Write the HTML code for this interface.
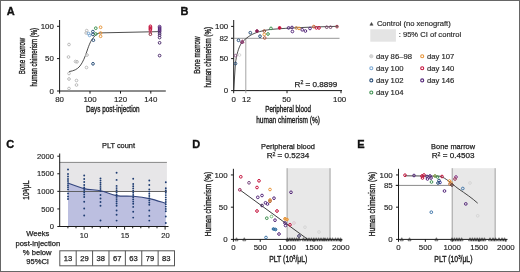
<!DOCTYPE html>
<html><head><meta charset="utf-8"><style>
html,body{margin:0;padding:0;background:#fff;}
#wrap{position:relative;width:520px;height:272px;overflow:hidden;background:#fff;}
svg{display:block;will-change:transform;filter:blur(0.3px);}
#bd{position:absolute;left:0;top:0;width:518px;height:270px;border:1px solid #666;}
text{font-family:"Liberation Sans",sans-serif;}
</style></head><body>
<div id="wrap">
<svg width="520" height="272" viewBox="0 0 520 272">
<text x="6.7" y="14.6" font-size="11" text-anchor="start" fill="#111" stroke="#111" stroke-width="0.35" font-weight="bold" >A</text>
<line x1="59.6" y1="20" x2="59.6" y2="91.5" stroke="#1a1a1a" stroke-width="1"/>
<line x1="59.1" y1="91" x2="165.8" y2="91" stroke="#1a1a1a" stroke-width="1"/>
<line x1="57" y1="26.3" x2="59.6" y2="26.3" stroke="#1a1a1a" stroke-width="1"/>
<text x="53.8" y="28.900000000000002" font-size="7.9" text-anchor="end" fill="#1e1e1e" stroke="#1e1e1e" stroke-width="0.15" >100</text>
<line x1="57" y1="58.6" x2="59.6" y2="58.6" stroke="#1a1a1a" stroke-width="1"/>
<text x="53.8" y="61.2" font-size="7.9" text-anchor="end" fill="#1e1e1e" stroke="#1e1e1e" stroke-width="0.15" >50</text>
<line x1="57" y1="91" x2="59.6" y2="91" stroke="#1a1a1a" stroke-width="1"/>
<text x="53.8" y="93.6" font-size="7.9" text-anchor="end" fill="#1e1e1e" stroke="#1e1e1e" stroke-width="0.15" >0</text>
<line x1="59.6" y1="91" x2="59.6" y2="93.6" stroke="#1a1a1a" stroke-width="1"/>
<text x="59.6" y="101.8" font-size="7.9" text-anchor="middle" fill="#1e1e1e" stroke="#1e1e1e" stroke-width="0.15" >80</text>
<line x1="90" y1="91" x2="90" y2="93.6" stroke="#1a1a1a" stroke-width="1"/>
<text x="90" y="101.8" font-size="7.9" text-anchor="middle" fill="#1e1e1e" stroke="#1e1e1e" stroke-width="0.15" >100</text>
<line x1="120.5" y1="91" x2="120.5" y2="93.6" stroke="#1a1a1a" stroke-width="1"/>
<text x="120.5" y="101.8" font-size="7.9" text-anchor="middle" fill="#1e1e1e" stroke="#1e1e1e" stroke-width="0.15" >120</text>
<line x1="150.8" y1="91" x2="150.8" y2="93.6" stroke="#1a1a1a" stroke-width="1"/>
<text x="150.8" y="101.8" font-size="7.9" text-anchor="middle" fill="#1e1e1e" stroke="#1e1e1e" stroke-width="0.15" >140</text>
<text x="86" y="111.8" font-size="9" text-anchor="start" fill="#1e1e1e" stroke="#1e1e1e" stroke-width="0.38" textLength="53.6" lengthAdjust="spacingAndGlyphs" >Days post-injection</text>
<text transform="translate(25.3,56) rotate(-90)" x="0" y="0" font-size="9" text-anchor="middle" fill="#1e1e1e" textLength="36.5" lengthAdjust="spacingAndGlyphs" stroke="#1e1e1e" stroke-width="0.36">Bone marrow</text>
<text transform="translate(37.3,57.2) rotate(-90)" x="0" y="0" font-size="9" text-anchor="middle" fill="#1e1e1e" textLength="58.5" lengthAdjust="spacingAndGlyphs" stroke="#1e1e1e" stroke-width="0.36">human chimerism (%)</text>
<path d="M69,71.6 C74,70.8 77,69.5 80,66 C83,62 85,57 87,51 C89,45 91,40 93.5,37.5 C95.5,34.8 97,33.3 100,32.9 L160.5,31.6" fill="none" stroke="#3a3a3a" stroke-width="0.9"/>
<circle cx="69" cy="44.5" r="1.35" fill="none" stroke="#bababa" stroke-width="1.0"/>
<circle cx="68.5" cy="57" r="1.35" fill="none" stroke="#bababa" stroke-width="1.0"/>
<circle cx="75.5" cy="61.5" r="1.35" fill="none" stroke="#bababa" stroke-width="1.0"/>
<circle cx="77" cy="61.8" r="1.35" fill="none" stroke="#bababa" stroke-width="1.0"/>
<circle cx="69" cy="73.5" r="1.35" fill="none" stroke="#bababa" stroke-width="1.0"/>
<circle cx="69" cy="79" r="1.35" fill="none" stroke="#bababa" stroke-width="1.0"/>
<circle cx="76.5" cy="80.5" r="1.35" fill="none" stroke="#bababa" stroke-width="1.0"/>
<circle cx="76.5" cy="85" r="1.35" fill="none" stroke="#bababa" stroke-width="1.0"/>
<circle cx="69" cy="88.5" r="1.35" fill="none" stroke="#bababa" stroke-width="1.0"/>
<circle cx="86.7" cy="30.6" r="1.35" fill="none" stroke="#bababa" stroke-width="1.0"/>
<circle cx="86.2" cy="33" r="1.35" fill="none" stroke="#bababa" stroke-width="1.0"/>
<circle cx="87" cy="55" r="1.35" fill="none" stroke="#bababa" stroke-width="1.0"/>
<circle cx="86.5" cy="67.5" r="1.35" fill="none" stroke="#bababa" stroke-width="1.0"/>
<circle cx="89.6" cy="35.4" r="1.35" fill="none" stroke="#7aa8d4" stroke-width="1.0"/>
<circle cx="88.6" cy="33.5" r="1.35" fill="none" stroke="#7aa8d4" stroke-width="1.0"/>
<circle cx="92.9" cy="31.6" r="1.35" fill="none" stroke="#2a4f78" stroke-width="1.0"/>
<circle cx="92.9" cy="34.4" r="1.35" fill="none" stroke="#2a4f78" stroke-width="1.0"/>
<circle cx="93.4" cy="40.2" r="1.35" fill="none" stroke="#2a4f78" stroke-width="1.0"/>
<circle cx="93" cy="63.8" r="1.35" fill="none" stroke="#2a4f78" stroke-width="1.0"/>
<circle cx="95.8" cy="28.2" r="1.35" fill="none" stroke="#3f9150" stroke-width="1.0"/>
<circle cx="95.8" cy="34" r="1.35" fill="none" stroke="#3f9150" stroke-width="1.0"/>
<circle cx="100.6" cy="27.3" r="1.35" fill="none" stroke="#e6943a" stroke-width="1.0"/>
<circle cx="100.6" cy="33" r="1.35" fill="none" stroke="#e6943a" stroke-width="1.0"/>
<circle cx="100.6" cy="36.3" r="1.35" fill="none" stroke="#e6943a" stroke-width="1.0"/>
<circle cx="150.4" cy="26.3" r="1.35" fill="none" stroke="#c4123c" stroke-width="1.0"/>
<circle cx="150.4" cy="27.5" r="1.35" fill="none" stroke="#c4123c" stroke-width="1.0"/>
<circle cx="150.4" cy="28.7" r="1.35" fill="none" stroke="#c4123c" stroke-width="1.0"/>
<circle cx="150.4" cy="29.9" r="1.35" fill="none" stroke="#c4123c" stroke-width="1.0"/>
<circle cx="150.4" cy="31.6" r="1.35" fill="none" stroke="#d04a6a" stroke-width="1.0"/>
<circle cx="150.4" cy="34.2" r="1.35" fill="none" stroke="#8a2a3a" stroke-width="1.0"/>
<circle cx="159.6" cy="26.6" r="1.35" fill="none" stroke="#55287a" stroke-width="1.0"/>
<circle cx="159.6" cy="27.8" r="1.35" fill="none" stroke="#55287a" stroke-width="1.0"/>
<circle cx="159.6" cy="29" r="1.35" fill="none" stroke="#55287a" stroke-width="1.0"/>
<circle cx="159.6" cy="30.2" r="1.35" fill="none" stroke="#55287a" stroke-width="1.0"/>
<circle cx="159.6" cy="31.4" r="1.35" fill="none" stroke="#55287a" stroke-width="1.0"/>
<circle cx="159.6" cy="33.2" r="1.35" fill="none" stroke="#4a2a6a" stroke-width="1.0"/>
<circle cx="159.6" cy="35.2" r="1.35" fill="none" stroke="#4a2a6a" stroke-width="1.0"/>
<circle cx="159.6" cy="37.6" r="1.35" fill="none" stroke="#4a2a6a" stroke-width="1.0"/>
<circle cx="159.6" cy="42.8" r="1.35" fill="none" stroke="#4a2a6a" stroke-width="1.0"/>
<circle cx="159.6" cy="55.6" r="1.35" fill="none" stroke="#4a2a6a" stroke-width="1.0"/>
<text x="180.6" y="14.6" font-size="11" text-anchor="start" fill="#111" stroke="#111" stroke-width="0.35" font-weight="bold" >B</text>
<line x1="233.7" y1="20" x2="233.7" y2="91.1" stroke="#1a1a1a" stroke-width="1"/>
<line x1="233.2" y1="90.6" x2="342" y2="90.6" stroke="#1a1a1a" stroke-width="1"/>
<line x1="231" y1="38.3" x2="339.5" y2="38.3" stroke="#8a8a8a" stroke-width="0.9"/>
<line x1="245.8" y1="38.3" x2="245.8" y2="90.6" stroke="#9a9a9a" stroke-width="0.9"/>
<line x1="231.1" y1="26.4" x2="233.7" y2="26.4" stroke="#1a1a1a" stroke-width="1"/>
<text x="228.2" y="29.0" font-size="7.9" text-anchor="end" fill="#1e1e1e" stroke="#1e1e1e" stroke-width="0.15" >100</text>
<line x1="231.1" y1="38.3" x2="233.7" y2="38.3" stroke="#1a1a1a" stroke-width="1"/>
<text x="228.2" y="40.9" font-size="7.9" text-anchor="end" fill="#1e1e1e" stroke="#1e1e1e" stroke-width="0.15" >82</text>
<line x1="231.1" y1="58.6" x2="233.7" y2="58.6" stroke="#1a1a1a" stroke-width="1"/>
<text x="228.2" y="61.2" font-size="7.9" text-anchor="end" fill="#1e1e1e" stroke="#1e1e1e" stroke-width="0.15" >50</text>
<line x1="231.1" y1="90.6" x2="233.7" y2="90.6" stroke="#1a1a1a" stroke-width="1"/>
<text x="228.2" y="93.19999999999999" font-size="7.9" text-anchor="end" fill="#1e1e1e" stroke="#1e1e1e" stroke-width="0.15" >0</text>
<line x1="233.7" y1="90.6" x2="233.7" y2="93.2" stroke="#1a1a1a" stroke-width="1"/>
<line x1="245.8" y1="90.6" x2="245.8" y2="93.2" stroke="#9a9a9a" stroke-width="0.9"/>
<line x1="287" y1="90.6" x2="287" y2="93.2" stroke="#1a1a1a" stroke-width="1"/>
<line x1="341" y1="90.6" x2="341" y2="93.2" stroke="#1a1a1a" stroke-width="1"/>
<text x="233.7" y="102.1" font-size="7.9" text-anchor="middle" fill="#1e1e1e" stroke="#1e1e1e" stroke-width="0.15" >0</text>
<text x="246.4" y="102.1" font-size="7.9" text-anchor="middle" fill="#1e1e1e" stroke="#1e1e1e" stroke-width="0.15" >12</text>
<text x="286.6" y="102.1" font-size="7.9" text-anchor="middle" fill="#1e1e1e" stroke="#1e1e1e" stroke-width="0.15" >50</text>
<text x="339.6" y="102.1" font-size="7.9" text-anchor="middle" fill="#1e1e1e" stroke="#1e1e1e" stroke-width="0.15" >100</text>
<text x="294.6" y="86.9" font-size="8.1" text-anchor="start" fill="#1e1e1e" stroke="#1e1e1e" stroke-width="0.25" >R<tspan dy="-2.5" font-size="5.2">2</tspan><tspan dy="2.5"> = 0.8899</tspan></text>
<text x="265.2" y="111.9" font-size="9" text-anchor="start" fill="#1e1e1e" stroke="#1e1e1e" stroke-width="0.38" textLength="45.7" lengthAdjust="spacingAndGlyphs" >Peripheral blood</text>
<text x="256.2" y="122.9" font-size="9" text-anchor="start" fill="#1e1e1e" stroke="#1e1e1e" stroke-width="0.38" textLength="63.7" lengthAdjust="spacingAndGlyphs" >human chimerism (%)</text>
<text transform="translate(200.2,55.2) rotate(-90)" x="0" y="0" font-size="9" text-anchor="middle" fill="#1e1e1e" textLength="37.3" lengthAdjust="spacingAndGlyphs" stroke="#1e1e1e" stroke-width="0.36">Bone marrow</text>
<text transform="translate(211.2,57.2) rotate(-90)" x="0" y="0" font-size="9" text-anchor="middle" fill="#1e1e1e" textLength="60.5" lengthAdjust="spacingAndGlyphs" stroke="#1e1e1e" stroke-width="0.36">human chimerism (%)</text>
<path d="M233.7,90.6 L235.4,63.5 C236.5,55 238.5,47.5 241.5,43 C244,40 247,37.5 251,35 C256,32.3 262,30.6 271,29.4 C290,27.8 312,27 338,26.3" fill="none" stroke="#3a3a3a" stroke-width="0.9"/>
<circle cx="235.5" cy="63.6" r="1.35" fill="none" stroke="#2a4f78" stroke-width="1.0"/>
<circle cx="235.6" cy="55.6" r="1.35" fill="none" stroke="#8c5a86" stroke-width="1.0"/>
<circle cx="239.5" cy="55" r="1.35" fill="none" stroke="#d6d6d6" stroke-width="1.0"/>
<circle cx="238.5" cy="40.3" r="1.35" fill="none" stroke="#2a4f78" stroke-width="1.0"/>
<circle cx="241.9" cy="42.2" r="1.35" fill="none" stroke="#7a3f7a" stroke-width="1.0"/>
<circle cx="250.3" cy="32.7" r="1.35" fill="none" stroke="#2a4f78" stroke-width="1.0"/>
<circle cx="257" cy="31" r="1.35" fill="#8a1f55" stroke="#8a1f55" stroke-width="1.0"/>
<circle cx="260" cy="36.2" r="1.35" fill="none" stroke="#2a4f78" stroke-width="1.0"/>
<circle cx="264.3" cy="31" r="1.35" fill="none" stroke="#9a4f3a" stroke-width="1.0"/>
<circle cx="264.3" cy="34.4" r="1.35" fill="none" stroke="#e6943a" stroke-width="1.0"/>
<circle cx="264.7" cy="38" r="1.35" fill="none" stroke="#b0604a" stroke-width="1.0"/>
<circle cx="268" cy="34" r="1.35" fill="none" stroke="#3f9150" stroke-width="1.0"/>
<circle cx="271" cy="28.4" r="1.35" fill="none" stroke="#3f9150" stroke-width="1.0"/>
<circle cx="279.6" cy="27.9" r="1.35" fill="#c4123c" stroke="#c4123c" stroke-width="1.0"/>
<circle cx="288.6" cy="27.9" r="1.35" fill="none" stroke="#55287a" stroke-width="1.0"/>
<circle cx="292" cy="27.5" r="1.35" fill="none" stroke="#55287a" stroke-width="1.0"/>
<circle cx="292.4" cy="31.5" r="1.35" fill="none" stroke="#55287a" stroke-width="1.0"/>
<circle cx="296.4" cy="27.9" r="1.35" fill="none" stroke="#c08040" stroke-width="1.0"/>
<circle cx="299" cy="28.4" r="1.35" fill="none" stroke="#e6943a" stroke-width="1.0"/>
<circle cx="302.2" cy="29.8" r="1.35" fill="none" stroke="#55287a" stroke-width="1.0"/>
<circle cx="305.4" cy="31" r="1.35" fill="none" stroke="#55287a" stroke-width="1.0"/>
<circle cx="310" cy="28.5" r="1.35" fill="none" stroke="#55287a" stroke-width="1.0"/>
<circle cx="313.8" cy="26.6" r="1.35" fill="none" stroke="#d06030" stroke-width="1.0"/>
<circle cx="316.4" cy="27.9" r="1.35" fill="none" stroke="#c4123c" stroke-width="1.0"/>
<circle cx="319" cy="27.9" r="1.35" fill="none" stroke="#c4123c" stroke-width="1.0"/>
<circle cx="326.7" cy="27.2" r="1.35" fill="none" stroke="#7a4a6a" stroke-width="1.0"/>
<circle cx="330.5" cy="27.2" r="1.35" fill="none" stroke="#7a4a6a" stroke-width="1.0"/>
<circle cx="337" cy="26.6" r="1.35" fill="none" stroke="#9a3a4a" stroke-width="1.0"/>
<path d="M240.90,42.94 L242.50,39.74 L244.10,42.94 Z" fill="none" stroke="#8a1f55" stroke-width="0.7"/>
<path d="M369.9,25.3 L371.5,22.4 L373.1,25.3 Z" fill="#444" stroke="#444" stroke-width="0.5"/>
<text x="376.9" y="26.2" font-size="7.6" text-anchor="start" fill="#2a2a2a" stroke="#2a2a2a" stroke-width="0.18" >Control (no xenograft)</text>
<rect x="370.3" y="29.3" width="25.6" height="12.4" fill="#e4e4e4"/>
<text x="398.7" y="37.4" font-size="7.6" text-anchor="start" fill="#2a2a2a" stroke="#2a2a2a" stroke-width="0.18" >: 95% CI of control</text>
<circle cx="371.3" cy="56.2" r="1.7" fill="#d4d4d4" stroke="#cfcfcf" stroke-width="0.8"/>
<text x="376.1" y="58.5" font-size="7.7" text-anchor="start" fill="#2a2a2a" stroke="#2a2a2a" stroke-width="0.18" >day 86–98</text>
<circle cx="371.3" cy="68.3" r="1.5" fill="none" stroke="#7aa8d4" stroke-width="1.1"/>
<text x="376.1" y="70.6" font-size="7.7" text-anchor="start" fill="#2a2a2a" stroke="#2a2a2a" stroke-width="0.18" >day 100</text>
<circle cx="371.3" cy="80.4" r="1.5" fill="none" stroke="#2a4f78" stroke-width="1.1"/>
<text x="376.1" y="82.7" font-size="7.7" text-anchor="start" fill="#2a2a2a" stroke="#2a2a2a" stroke-width="0.18" >day 102</text>
<circle cx="371.3" cy="92.5" r="1.5" fill="none" stroke="#3f9150" stroke-width="1.1"/>
<text x="376.1" y="94.8" font-size="7.7" text-anchor="start" fill="#2a2a2a" stroke="#2a2a2a" stroke-width="0.18" >day 104</text>
<circle cx="422.2" cy="56.2" r="1.5" fill="none" stroke="#e6943a" stroke-width="1.1"/>
<text x="427.0" y="58.5" font-size="7.7" text-anchor="start" fill="#2a2a2a" stroke="#2a2a2a" stroke-width="0.18" >day 107</text>
<circle cx="422.2" cy="68.3" r="1.5" fill="none" stroke="#c4123c" stroke-width="1.1"/>
<text x="427.0" y="70.6" font-size="7.7" text-anchor="start" fill="#2a2a2a" stroke="#2a2a2a" stroke-width="0.18" >day 140</text>
<circle cx="422.2" cy="80.4" r="1.5" fill="none" stroke="#55287a" stroke-width="1.1"/>
<text x="427.0" y="82.7" font-size="7.7" text-anchor="start" fill="#2a2a2a" stroke="#2a2a2a" stroke-width="0.18" >day 146</text>
<text x="6.2" y="148.1" font-size="11" text-anchor="start" fill="#111" stroke="#111" stroke-width="0.35" font-weight="bold" >C</text>
<text x="118.5" y="147.8" font-size="7.4" text-anchor="middle" fill="#1e1e1e" stroke="#1e1e1e" stroke-width="0.25" >PLT count</text>
<rect x="59.6" y="162.4" width="107.3" height="29.1" fill="#e7e6e8"/>
<line x1="59.6" y1="162.4" x2="166.9" y2="162.4" stroke="#7a7a7a" stroke-width="0.9"/>
<path d="M68,183 C70.70,183.93 78.78,187.30 84.2,188.6 C89.62,189.90 95.10,189.63 100.5,190.8 C105.90,191.97 111.15,194.68 116.6,195.6 C122.05,196.52 127.75,195.80 133.2,196.3 C138.65,196.80 143.87,197.43 149.3,198.6 C154.73,199.77 163.05,202.52 165.8,203.3 L165.8,226.5 L68,226.5 Z" fill="#bcbfe0"/>
<line x1="59.6" y1="191.5" x2="166.9" y2="191.5" stroke="#555" stroke-width="0.9"/>
<path d="M68,183 C70.70,183.93 78.78,187.30 84.2,188.6 C89.62,189.90 95.10,189.63 100.5,190.8 C105.90,191.97 111.15,194.68 116.6,195.6 C122.05,196.52 127.75,195.80 133.2,196.3 C138.65,196.80 143.87,197.43 149.3,198.6 C154.73,199.77 163.05,202.52 165.8,203.3" fill="none" stroke="#34467e" stroke-width="1.1"/>
<line x1="59.7" y1="153.5" x2="59.7" y2="227" stroke="#1a1a1a" stroke-width="1"/>
<line x1="59.2" y1="226.5" x2="168.5" y2="226.5" stroke="#1a1a1a" stroke-width="1"/>
<line x1="57.3" y1="226.5" x2="59.7" y2="226.5" stroke="#1a1a1a" stroke-width="1"/>
<text x="54" y="229.2" font-size="7.6" text-anchor="end" fill="#1e1e1e" stroke="#1e1e1e" stroke-width="0.15" >0</text>
<line x1="57.3" y1="208.925" x2="59.7" y2="208.925" stroke="#1a1a1a" stroke-width="1"/>
<text x="54" y="211.625" font-size="7.6" text-anchor="end" fill="#1e1e1e" stroke="#1e1e1e" stroke-width="0.15" >500</text>
<line x1="57.3" y1="191.35" x2="59.7" y2="191.35" stroke="#1a1a1a" stroke-width="1"/>
<text x="54" y="194.04999999999998" font-size="7.6" text-anchor="end" fill="#1e1e1e" stroke="#1e1e1e" stroke-width="0.15" >1000</text>
<line x1="57.3" y1="173.775" x2="59.7" y2="173.775" stroke="#1a1a1a" stroke-width="1"/>
<text x="54" y="176.475" font-size="7.6" text-anchor="end" fill="#1e1e1e" stroke="#1e1e1e" stroke-width="0.15" >1500</text>
<line x1="57.3" y1="156.2" x2="59.7" y2="156.2" stroke="#1a1a1a" stroke-width="1"/>
<text x="54" y="158.89999999999998" font-size="7.6" text-anchor="end" fill="#1e1e1e" stroke="#1e1e1e" stroke-width="0.15" >2000</text>
<line x1="67.9" y1="226.5" x2="67.9" y2="228.3" stroke="#1a1a1a" stroke-width="1"/>
<line x1="76.0" y1="226.5" x2="76.0" y2="228.3" stroke="#1a1a1a" stroke-width="1"/>
<line x1="84.10000000000001" y1="226.5" x2="84.10000000000001" y2="229.6" stroke="#1a1a1a" stroke-width="1"/>
<line x1="92.2" y1="226.5" x2="92.2" y2="228.3" stroke="#1a1a1a" stroke-width="1"/>
<line x1="100.30000000000001" y1="226.5" x2="100.30000000000001" y2="228.3" stroke="#1a1a1a" stroke-width="1"/>
<line x1="108.4" y1="226.5" x2="108.4" y2="228.3" stroke="#1a1a1a" stroke-width="1"/>
<line x1="116.5" y1="226.5" x2="116.5" y2="228.3" stroke="#1a1a1a" stroke-width="1"/>
<line x1="124.6" y1="226.5" x2="124.6" y2="229.6" stroke="#1a1a1a" stroke-width="1"/>
<line x1="132.7" y1="226.5" x2="132.7" y2="228.3" stroke="#1a1a1a" stroke-width="1"/>
<line x1="140.8" y1="226.5" x2="140.8" y2="228.3" stroke="#1a1a1a" stroke-width="1"/>
<line x1="148.9" y1="226.5" x2="148.9" y2="228.3" stroke="#1a1a1a" stroke-width="1"/>
<line x1="157.0" y1="226.5" x2="157.0" y2="228.3" stroke="#1a1a1a" stroke-width="1"/>
<line x1="165.1" y1="226.5" x2="165.1" y2="229.6" stroke="#1a1a1a" stroke-width="1"/>
<text x="84.1" y="238.3" font-size="7.6" text-anchor="middle" fill="#1e1e1e" stroke="#1e1e1e" stroke-width="0.15" >10</text>
<text x="124.9" y="238.3" font-size="7.6" text-anchor="middle" fill="#1e1e1e" stroke="#1e1e1e" stroke-width="0.15" >15</text>
<text x="165.4" y="238.3" font-size="7.6" text-anchor="middle" fill="#1e1e1e" stroke="#1e1e1e" stroke-width="0.15" >20</text>
<text transform="translate(29.3,190.2) rotate(-90)" x="0" y="0" font-size="8.4" text-anchor="middle" fill="#1e1e1e" textLength="19.2" lengthAdjust="spacingAndGlyphs" stroke="#1e1e1e" stroke-width="0.36">10<tspan dy="-2.8" font-size="5.2">3</tspan><tspan dy="2.8">/μL</tspan></text>
<text x="37.8" y="236.4" font-size="7.6" text-anchor="middle" fill="#1e1e1e" stroke="#1e1e1e" stroke-width="0.25" >Weeks</text>
<text x="37.8" y="245.8" font-size="7.6" text-anchor="middle" fill="#1e1e1e" stroke="#1e1e1e" stroke-width="0.25" >post-injection</text>
<text x="37.2" y="254.9" font-size="7.6" text-anchor="middle" fill="#1e1e1e" stroke="#1e1e1e" stroke-width="0.25" >% below</text>
<text x="37.6" y="264" font-size="7.6" text-anchor="middle" fill="#1e1e1e" stroke="#1e1e1e" stroke-width="0.25" >95%CI</text>
<circle cx="68" cy="169.5" r="0.95" fill="#1f3d72"/>
<circle cx="68" cy="174" r="0.95" fill="#1f3d72"/>
<circle cx="68" cy="176.5" r="0.95" fill="#1f3d72"/>
<circle cx="68" cy="179" r="0.95" fill="#1f3d72"/>
<circle cx="68" cy="181" r="0.95" fill="#1f3d72"/>
<circle cx="68" cy="183.1" r="0.95" fill="#1f3d72"/>
<circle cx="68" cy="185.2" r="0.95" fill="#1f3d72"/>
<circle cx="68" cy="187.3" r="0.95" fill="#1f3d72"/>
<circle cx="68" cy="189.4" r="0.95" fill="#1f3d72"/>
<circle cx="68" cy="193.5" r="0.95" fill="#1f3d72"/>
<circle cx="68" cy="196.5" r="0.95" fill="#1f3d72"/>
<circle cx="68" cy="199" r="0.95" fill="#1f3d72"/>
<circle cx="84.2" cy="175.5" r="0.95" fill="#1f3d72"/>
<circle cx="84.2" cy="179" r="0.95" fill="#1f3d72"/>
<circle cx="84.2" cy="182" r="0.95" fill="#1f3d72"/>
<circle cx="84.2" cy="185" r="0.95" fill="#1f3d72"/>
<circle cx="84.2" cy="187.5" r="0.95" fill="#1f3d72"/>
<circle cx="84.2" cy="190" r="0.95" fill="#1f3d72"/>
<circle cx="84.2" cy="192.2" r="0.95" fill="#1f3d72"/>
<circle cx="84.2" cy="194.5" r="0.95" fill="#1f3d72"/>
<circle cx="84.2" cy="197" r="0.95" fill="#1f3d72"/>
<circle cx="84.2" cy="201.8" r="0.95" fill="#1f3d72"/>
<circle cx="84.2" cy="208.5" r="0.95" fill="#1f3d72"/>
<circle cx="84.2" cy="215.5" r="0.95" fill="#1f3d72"/>
<circle cx="100.5" cy="178.5" r="0.95" fill="#1f3d72"/>
<circle cx="100.5" cy="180.6" r="0.95" fill="#1f3d72"/>
<circle cx="100.5" cy="182.7" r="0.95" fill="#1f3d72"/>
<circle cx="100.5" cy="184.8" r="0.95" fill="#1f3d72"/>
<circle cx="100.5" cy="186.9" r="0.95" fill="#1f3d72"/>
<circle cx="100.5" cy="189.0" r="0.95" fill="#1f3d72"/>
<circle cx="100.5" cy="191.1" r="0.95" fill="#1f3d72"/>
<circle cx="100.5" cy="195" r="0.95" fill="#1f3d72"/>
<circle cx="100.5" cy="198.5" r="0.95" fill="#1f3d72"/>
<circle cx="100.5" cy="202" r="0.95" fill="#1f3d72"/>
<circle cx="100.5" cy="205.8" r="0.95" fill="#1f3d72"/>
<circle cx="100.5" cy="220.5" r="0.95" fill="#1f3d72"/>
<circle cx="116.6" cy="172.7" r="0.95" fill="#1f3d72"/>
<circle cx="116.6" cy="179.9" r="0.95" fill="#1f3d72"/>
<circle cx="116.6" cy="185.9" r="0.95" fill="#1f3d72"/>
<circle cx="116.6" cy="188.1" r="0.95" fill="#1f3d72"/>
<circle cx="116.6" cy="190.3" r="0.95" fill="#1f3d72"/>
<circle cx="116.6" cy="192.5" r="0.95" fill="#1f3d72"/>
<circle cx="116.6" cy="194.7" r="0.95" fill="#1f3d72"/>
<circle cx="116.6" cy="196.9" r="0.95" fill="#1f3d72"/>
<circle cx="116.6" cy="199.1" r="0.95" fill="#1f3d72"/>
<circle cx="116.6" cy="201.3" r="0.95" fill="#1f3d72"/>
<circle cx="116.6" cy="203.5" r="0.95" fill="#1f3d72"/>
<circle cx="116.6" cy="205.7" r="0.95" fill="#1f3d72"/>
<circle cx="116.6" cy="210.5" r="0.95" fill="#1f3d72"/>
<circle cx="116.6" cy="214.7" r="0.95" fill="#1f3d72"/>
<circle cx="116.6" cy="220.6" r="0.95" fill="#1f3d72"/>
<circle cx="133.2" cy="178.7" r="0.95" fill="#1f3d72"/>
<circle cx="133.2" cy="184" r="0.95" fill="#1f3d72"/>
<circle cx="133.2" cy="186.2" r="0.95" fill="#1f3d72"/>
<circle cx="133.2" cy="188.4" r="0.95" fill="#1f3d72"/>
<circle cx="133.2" cy="190.6" r="0.95" fill="#1f3d72"/>
<circle cx="133.2" cy="192.8" r="0.95" fill="#1f3d72"/>
<circle cx="133.2" cy="195.0" r="0.95" fill="#1f3d72"/>
<circle cx="133.2" cy="197.2" r="0.95" fill="#1f3d72"/>
<circle cx="133.2" cy="199.4" r="0.95" fill="#1f3d72"/>
<circle cx="133.2" cy="201.6" r="0.95" fill="#1f3d72"/>
<circle cx="133.2" cy="203.8" r="0.95" fill="#1f3d72"/>
<circle cx="133.2" cy="206.9" r="0.95" fill="#1f3d72"/>
<circle cx="133.2" cy="211.7" r="0.95" fill="#1f3d72"/>
<circle cx="133.2" cy="217.6" r="0.95" fill="#1f3d72"/>
<circle cx="149.3" cy="180.5" r="0.95" fill="#1f3d72"/>
<circle cx="149.3" cy="185" r="0.95" fill="#1f3d72"/>
<circle cx="149.3" cy="189.4" r="0.95" fill="#1f3d72"/>
<circle cx="149.3" cy="191.6" r="0.95" fill="#1f3d72"/>
<circle cx="149.3" cy="193.8" r="0.95" fill="#1f3d72"/>
<circle cx="149.3" cy="196.0" r="0.95" fill="#1f3d72"/>
<circle cx="149.3" cy="198.2" r="0.95" fill="#1f3d72"/>
<circle cx="149.3" cy="200.4" r="0.95" fill="#1f3d72"/>
<circle cx="149.3" cy="202.6" r="0.95" fill="#1f3d72"/>
<circle cx="149.3" cy="204.8" r="0.95" fill="#1f3d72"/>
<circle cx="149.3" cy="210.5" r="0.95" fill="#1f3d72"/>
<circle cx="149.3" cy="215.9" r="0.95" fill="#1f3d72"/>
<circle cx="149.3" cy="220.6" r="0.95" fill="#1f3d72"/>
<circle cx="165.8" cy="182.3" r="0.95" fill="#1f3d72"/>
<circle cx="165.8" cy="188.2" r="0.95" fill="#1f3d72"/>
<circle cx="165.8" cy="190.5" r="0.95" fill="#1f3d72"/>
<circle cx="165.8" cy="192.8" r="0.95" fill="#1f3d72"/>
<circle cx="165.8" cy="195.1" r="0.95" fill="#1f3d72"/>
<circle cx="165.8" cy="197.4" r="0.95" fill="#1f3d72"/>
<circle cx="165.8" cy="199.7" r="0.95" fill="#1f3d72"/>
<circle cx="165.8" cy="202.0" r="0.95" fill="#1f3d72"/>
<circle cx="165.8" cy="204.3" r="0.95" fill="#1f3d72"/>
<circle cx="165.8" cy="206.6" r="0.95" fill="#1f3d72"/>
<circle cx="165.8" cy="208.9" r="0.95" fill="#1f3d72"/>
<circle cx="165.8" cy="211.2" r="0.95" fill="#1f3d72"/>
<circle cx="165.8" cy="216.5" r="0.95" fill="#1f3d72"/>
<circle cx="165.8" cy="223" r="0.95" fill="#1f3d72"/>
<rect x="59.8" y="250.8" width="114.7" height="15" fill="none" stroke="#555" stroke-width="1"/>
<text x="68.0" y="261.1" font-size="7.6" text-anchor="middle" fill="#1e1e1e" stroke="#1e1e1e" stroke-width="0.25" >13</text>
<line x1="76.19" y1="250.8" x2="76.19" y2="265.8" stroke="#555" stroke-width="1"/>
<text x="84.39" y="261.1" font-size="7.6" text-anchor="middle" fill="#1e1e1e" stroke="#1e1e1e" stroke-width="0.25" >29</text>
<line x1="92.58" y1="250.8" x2="92.58" y2="265.8" stroke="#555" stroke-width="1"/>
<text x="100.78" y="261.1" font-size="7.6" text-anchor="middle" fill="#1e1e1e" stroke="#1e1e1e" stroke-width="0.25" >38</text>
<line x1="108.97" y1="250.8" x2="108.97" y2="265.8" stroke="#555" stroke-width="1"/>
<text x="117.17" y="261.1" font-size="7.6" text-anchor="middle" fill="#1e1e1e" stroke="#1e1e1e" stroke-width="0.25" >67</text>
<line x1="125.36" y1="250.8" x2="125.36" y2="265.8" stroke="#555" stroke-width="1"/>
<text x="133.56" y="261.1" font-size="7.6" text-anchor="middle" fill="#1e1e1e" stroke="#1e1e1e" stroke-width="0.25" >63</text>
<line x1="141.75" y1="250.8" x2="141.75" y2="265.8" stroke="#555" stroke-width="1"/>
<text x="149.95" y="261.1" font-size="7.6" text-anchor="middle" fill="#1e1e1e" stroke="#1e1e1e" stroke-width="0.25" >79</text>
<line x1="158.14" y1="250.8" x2="158.14" y2="265.8" stroke="#555" stroke-width="1"/>
<text x="166.33999999999997" y="261.1" font-size="7.6" text-anchor="middle" fill="#1e1e1e" stroke="#1e1e1e" stroke-width="0.25" >83</text>
<text x="192.2" y="148.1" font-size="11" text-anchor="start" fill="#111" stroke="#111" stroke-width="0.35" font-weight="bold" >D</text>
<text x="288.0" y="148.9" font-size="7.4" text-anchor="middle" fill="#1e1e1e" stroke="#1e1e1e" stroke-width="0.25" >Peripheral blood</text>
<text x="288.0" y="157.9" font-size="8.1" text-anchor="middle" fill="#1e1e1e" stroke="#1e1e1e" stroke-width="0.25" >R<tspan dy="-2.4" font-size="5.2">2</tspan><tspan dy="2.4"> = 0.5234</tspan></text>
<rect x="287.1" y="168.2" width="42.95999999999998" height="71.20000000000002" fill="#e8e8e8"/>
<line x1="287.1" y1="168.2" x2="287.1" y2="239.4" stroke="#959595" stroke-width="0.9"/>
<line x1="330.06" y1="168.2" x2="330.06" y2="239.4" stroke="#959595" stroke-width="0.9"/>
<line x1="233.4" y1="168.8" x2="233.4" y2="240" stroke="#1a1a1a" stroke-width="1"/>
<line x1="232.9" y1="239.4" x2="342.4" y2="239.4" stroke="#1a1a1a" stroke-width="1"/>
<line x1="230.9" y1="174.95" x2="233.4" y2="174.95" stroke="#1a1a1a" stroke-width="1"/>
<text x="227.6" y="177.64999999999998" font-size="7.9" text-anchor="end" fill="#1e1e1e" stroke="#1e1e1e" stroke-width="0.15" >100</text>
<line x1="230.9" y1="207.175" x2="233.4" y2="207.175" stroke="#1a1a1a" stroke-width="1"/>
<text x="227.6" y="209.875" font-size="7.9" text-anchor="end" fill="#1e1e1e" stroke="#1e1e1e" stroke-width="0.15" >50</text>
<line x1="230.9" y1="239.4" x2="233.4" y2="239.4" stroke="#1a1a1a" stroke-width="1"/>
<text x="227.6" y="242.1" font-size="7.9" text-anchor="end" fill="#1e1e1e" stroke="#1e1e1e" stroke-width="0.15" >0</text>
<line x1="233.4" y1="239.4" x2="233.4" y2="241.8" stroke="#1a1a1a" stroke-width="1"/>
<text x="233.4" y="250.4" font-size="7.9" text-anchor="middle" fill="#1e1e1e" stroke="#1e1e1e" stroke-width="0.15" >0</text>
<line x1="260.25" y1="239.4" x2="260.25" y2="241.8" stroke="#1a1a1a" stroke-width="1"/>
<text x="260.25" y="250.4" font-size="7.9" text-anchor="middle" fill="#1e1e1e" stroke="#1e1e1e" stroke-width="0.15" >500</text>
<line x1="287.1" y1="239.4" x2="287.1" y2="241.8" stroke="#1a1a1a" stroke-width="1"/>
<text x="287.1" y="250.4" font-size="7.9" text-anchor="middle" fill="#1e1e1e" stroke="#1e1e1e" stroke-width="0.15" >1000</text>
<line x1="313.95" y1="239.4" x2="313.95" y2="241.8" stroke="#1a1a1a" stroke-width="1"/>
<text x="313.95" y="250.4" font-size="7.9" text-anchor="middle" fill="#1e1e1e" stroke="#1e1e1e" stroke-width="0.15" >1500</text>
<line x1="340.8" y1="239.4" x2="340.8" y2="241.8" stroke="#1a1a1a" stroke-width="1"/>
<text x="340.8" y="250.4" font-size="7.9" text-anchor="middle" fill="#1e1e1e" stroke="#1e1e1e" stroke-width="0.15" >2000</text>
<text x="269.2" y="261.5" font-size="9" text-anchor="start" fill="#1e1e1e" stroke="#1e1e1e" stroke-width="0.38" textLength="38.2" lengthAdjust="spacingAndGlyphs" >PLT (10<tspan dy="-2.6" font-size="5.5">3</tspan><tspan dy="2.6">/μL)</tspan></text>
<text transform="translate(211.4,204) rotate(-90)" x="0" y="0" font-size="9" text-anchor="middle" fill="#1e1e1e" textLength="64.4" lengthAdjust="spacingAndGlyphs" stroke="#1e1e1e" stroke-width="0.36">Human chimerism (%)</text>
<path d="M239.8,189.8 L307.8,239.4" stroke="#333" stroke-width="0.95"/>
<circle cx="240.8" cy="176.8" r="1.35" fill="none" stroke="#c4123c" stroke-width="1.0"/>
<circle cx="249" cy="182.8" r="1.35" fill="none" stroke="#7a4a80" stroke-width="1.0"/>
<circle cx="259" cy="180.8" r="1.35" fill="none" stroke="#c4123c" stroke-width="1.0"/>
<circle cx="257" cy="187.5" r="1.35" fill="none" stroke="#c4123c" stroke-width="1.0"/>
<circle cx="239.8" cy="189.8" r="1.35" fill="none" stroke="#a0285a" stroke-width="1.0"/>
<circle cx="270" cy="189.5" r="1.35" fill="none" stroke="#e6943a" stroke-width="1.0"/>
<circle cx="257.8" cy="197.3" r="1.35" fill="none" stroke="#55287a" stroke-width="1.0"/>
<circle cx="262" cy="195.5" r="1.35" fill="none" stroke="#55287a" stroke-width="1.0"/>
<circle cx="274" cy="198.2" r="1.35" fill="none" stroke="#55287a" stroke-width="1.0"/>
<circle cx="270" cy="200" r="1.35" fill="none" stroke="#e6943a" stroke-width="1.0"/>
<circle cx="270" cy="201.2" r="1.35" fill="none" stroke="#b06030" stroke-width="1.0"/>
<circle cx="265.5" cy="202.8" r="1.35" fill="none" stroke="#55287a" stroke-width="1.0"/>
<circle cx="267.5" cy="204" r="1.35" fill="none" stroke="#55287a" stroke-width="1.0"/>
<circle cx="262" cy="205.5" r="1.35" fill="none" stroke="#4a2a60" stroke-width="1.0"/>
<circle cx="257" cy="211" r="1.35" fill="none" stroke="#c4123c" stroke-width="1.0"/>
<circle cx="277" cy="211" r="1.35" fill="none" stroke="#c4123c" stroke-width="1.0"/>
<circle cx="266.8" cy="218.2" r="1.35" fill="none" stroke="#3f9150" stroke-width="1.0"/>
<circle cx="271.5" cy="216.5" r="1.35" fill="none" stroke="#7ac07a" stroke-width="1.0"/>
<circle cx="275" cy="220.2" r="1.35" fill="none" stroke="#55287a" stroke-width="1.0"/>
<circle cx="285" cy="218.8" r="1.35" fill="#f0b060" stroke="#e6943a" stroke-width="1.0"/>
<circle cx="287" cy="219.5" r="1.35" fill="#f0b060" stroke="#e6943a" stroke-width="1.0"/>
<circle cx="285" cy="223" r="1.35" fill="none" stroke="#55287a" stroke-width="1.0"/>
<circle cx="285.5" cy="225.5" r="1.35" fill="none" stroke="#55287a" stroke-width="1.0"/>
<circle cx="290" cy="224.8" r="1.35" fill="none" stroke="#c4123c" stroke-width="1.0"/>
<circle cx="294" cy="223" r="1.35" fill="none" stroke="#e0c8d0" stroke-width="1.0"/>
<circle cx="273.5" cy="229" r="1.35" fill="#5a8ab8" stroke="#2a6a9a" stroke-width="1.0"/>
<circle cx="275.5" cy="229.5" r="1.35" fill="#5a8ab8" stroke="#2a6a9a" stroke-width="1.0"/>
<circle cx="279" cy="234" r="1.35" fill="none" stroke="#55287a" stroke-width="1.0"/>
<circle cx="266" cy="237.5" r="1.35" fill="none" stroke="#3f75a8" stroke-width="1.0"/>
<circle cx="299" cy="236" r="1.35" fill="none" stroke="#3a3060" stroke-width="1.0"/>
<circle cx="291" cy="192.3" r="1.35" fill="none" stroke="#55287a" stroke-width="1.0"/>
<circle cx="305" cy="227.2" r="1.35" fill="none" stroke="#d6d6d6" stroke-width="1.0"/>
<circle cx="319" cy="232" r="1.35" fill="none" stroke="#d6d6d6" stroke-width="1.0"/>
<path d="M235.00,240.75 L236.50,237.75 L238.00,240.75 Z" fill="none" stroke="#222" stroke-width="0.6"/>
<path d="M242.80,240.75 L244.30,237.75 L245.80,240.75 Z" fill="none" stroke="#222" stroke-width="0.6"/>
<path d="M286.00,240.75 L287.50,237.75 L289.00,240.75 Z" fill="none" stroke="#222" stroke-width="0.6"/>
<path d="M288.30,240.75 L289.80,237.75 L291.30,240.75 Z" fill="none" stroke="#222" stroke-width="0.6"/>
<path d="M290.60,240.75 L292.10,237.75 L293.60,240.75 Z" fill="none" stroke="#222" stroke-width="0.6"/>
<path d="M292.90,240.75 L294.40,237.75 L295.90,240.75 Z" fill="none" stroke="#222" stroke-width="0.6"/>
<path d="M295.20,240.75 L296.70,237.75 L298.20,240.75 Z" fill="none" stroke="#222" stroke-width="0.6"/>
<path d="M297.50,240.75 L299.00,237.75 L300.50,240.75 Z" fill="none" stroke="#222" stroke-width="0.6"/>
<path d="M302.00,240.75 L303.50,237.75 L305.00,240.75 Z" fill="none" stroke="#222" stroke-width="0.6"/>
<path d="M305.00,240.75 L306.50,237.75 L308.00,240.75 Z" fill="none" stroke="#222" stroke-width="0.6"/>
<path d="M307.50,240.75 L309.00,237.75 L310.50,240.75 Z" fill="none" stroke="#222" stroke-width="0.6"/>
<path d="M309.90,240.75 L311.40,237.75 L312.90,240.75 Z" fill="none" stroke="#222" stroke-width="0.6"/>
<path d="M312.30,240.75 L313.80,237.75 L315.30,240.75 Z" fill="none" stroke="#222" stroke-width="0.6"/>
<path d="M314.70,240.75 L316.20,237.75 L317.70,240.75 Z" fill="none" stroke="#222" stroke-width="0.6"/>
<path d="M317.10,240.75 L318.60,237.75 L320.10,240.75 Z" fill="none" stroke="#222" stroke-width="0.6"/>
<path d="M319.50,240.75 L321.00,237.75 L322.50,240.75 Z" fill="none" stroke="#222" stroke-width="0.6"/>
<path d="M321.90,240.75 L323.40,237.75 L324.90,240.75 Z" fill="none" stroke="#222" stroke-width="0.6"/>
<path d="M323.50,240.75 L325.00,237.75 L326.50,240.75 Z" fill="none" stroke="#222" stroke-width="0.6"/>
<path d="M326.00,240.75 L327.50,237.75 L329.00,240.75 Z" fill="none" stroke="#222" stroke-width="0.6"/>
<path d="M328.50,240.75 L330.00,237.75 L331.50,240.75 Z" fill="none" stroke="#222" stroke-width="0.6"/>
<path d="M331.00,240.75 L332.50,237.75 L334.00,240.75 Z" fill="none" stroke="#222" stroke-width="0.6"/>
<path d="M334.00,240.75 L335.50,237.75 L337.00,240.75 Z" fill="none" stroke="#222" stroke-width="0.6"/>
<path d="M336.50,240.75 L338.00,237.75 L339.50,240.75 Z" fill="none" stroke="#222" stroke-width="0.6"/>
<path d="M339.00,240.75 L340.50,237.75 L342.00,240.75 Z" fill="none" stroke="#222" stroke-width="0.6"/>
<text x="357.3" y="148.1" font-size="11" text-anchor="start" fill="#111" stroke="#111" stroke-width="0.35" font-weight="bold" >E</text>
<text x="453.1" y="148.9" font-size="7.4" text-anchor="middle" fill="#1e1e1e" stroke="#1e1e1e" stroke-width="0.25" >Bone marrow</text>
<text x="453.1" y="157.9" font-size="8.1" text-anchor="middle" fill="#1e1e1e" stroke="#1e1e1e" stroke-width="0.25" >R<tspan dy="-2.4" font-size="5.2">2</tspan><tspan dy="2.4"> = 0.4503</tspan></text>
<rect x="452.2" y="168.2" width="42.95999999999998" height="71.20000000000002" fill="#e8e8e8"/>
<line x1="452.2" y1="168.2" x2="452.2" y2="239.4" stroke="#959595" stroke-width="0.9"/>
<line x1="495.15999999999997" y1="168.2" x2="495.15999999999997" y2="239.4" stroke="#959595" stroke-width="0.9"/>
<line x1="395.5" y1="185.4" x2="452.2" y2="185.4" stroke="#8a8a8a" stroke-width="1"/>
<line x1="398.5" y1="168.8" x2="398.5" y2="240" stroke="#1a1a1a" stroke-width="1"/>
<line x1="398.0" y1="239.4" x2="507.5" y2="239.4" stroke="#1a1a1a" stroke-width="1"/>
<line x1="396.0" y1="174.95" x2="398.5" y2="174.95" stroke="#1a1a1a" stroke-width="1"/>
<text x="392.7" y="177.64999999999998" font-size="7.9" text-anchor="end" fill="#1e1e1e" stroke="#1e1e1e" stroke-width="0.15" >100</text>
<line x1="396.0" y1="185.4" x2="398.5" y2="185.4" stroke="#1a1a1a" stroke-width="1"/>
<text x="392.7" y="188.1" font-size="7.9" text-anchor="end" fill="#1e1e1e" stroke="#1e1e1e" stroke-width="0.15" >85</text>
<line x1="396.0" y1="207.175" x2="398.5" y2="207.175" stroke="#1a1a1a" stroke-width="1"/>
<text x="392.7" y="209.875" font-size="7.9" text-anchor="end" fill="#1e1e1e" stroke="#1e1e1e" stroke-width="0.15" >50</text>
<line x1="396.0" y1="239.4" x2="398.5" y2="239.4" stroke="#1a1a1a" stroke-width="1"/>
<text x="392.7" y="242.1" font-size="7.9" text-anchor="end" fill="#1e1e1e" stroke="#1e1e1e" stroke-width="0.15" >0</text>
<line x1="398.5" y1="239.4" x2="398.5" y2="241.8" stroke="#1a1a1a" stroke-width="1"/>
<text x="398.5" y="250.4" font-size="7.9" text-anchor="middle" fill="#1e1e1e" stroke="#1e1e1e" stroke-width="0.15" >0</text>
<line x1="425.35" y1="239.4" x2="425.35" y2="241.8" stroke="#1a1a1a" stroke-width="1"/>
<text x="425.35" y="250.4" font-size="7.9" text-anchor="middle" fill="#1e1e1e" stroke="#1e1e1e" stroke-width="0.15" >500</text>
<line x1="452.2" y1="239.4" x2="452.2" y2="241.8" stroke="#1a1a1a" stroke-width="1"/>
<text x="452.2" y="250.4" font-size="7.9" text-anchor="middle" fill="#1e1e1e" stroke="#1e1e1e" stroke-width="0.15" >1000</text>
<line x1="479.05" y1="239.4" x2="479.05" y2="241.8" stroke="#1a1a1a" stroke-width="1"/>
<text x="479.05" y="250.4" font-size="7.9" text-anchor="middle" fill="#1e1e1e" stroke="#1e1e1e" stroke-width="0.15" >1500</text>
<line x1="505.9" y1="239.4" x2="505.9" y2="241.8" stroke="#1a1a1a" stroke-width="1"/>
<text x="505.9" y="250.4" font-size="7.9" text-anchor="middle" fill="#1e1e1e" stroke="#1e1e1e" stroke-width="0.15" >2000</text>
<text x="434.3" y="261.5" font-size="9" text-anchor="start" fill="#1e1e1e" stroke="#1e1e1e" stroke-width="0.38" textLength="38.2" lengthAdjust="spacingAndGlyphs" >PLT (10<tspan dy="-2.6" font-size="5.5">3</tspan><tspan dy="2.6">/μL)</tspan></text>
<text transform="translate(374.8,204) rotate(-90)" x="0" y="0" font-size="9" text-anchor="middle" fill="#1e1e1e" textLength="64.4" lengthAdjust="spacingAndGlyphs" stroke="#1e1e1e" stroke-width="0.36">Human chimerism (%)</text>
<path d="M405,175.8 L440,176.2 C446,178 452,184 458,188.5 C466,194 472,198 477.7,203.2" fill="none" stroke="#333" stroke-width="0.9"/>
<circle cx="405" cy="175.2" r="1.35" fill="none" stroke="#c4123c" stroke-width="1.0"/>
<circle cx="414" cy="175.5" r="1.35" fill="none" stroke="#55287a" stroke-width="1.0"/>
<circle cx="422" cy="176" r="1.35" fill="none" stroke="#c4123c" stroke-width="1.0"/>
<circle cx="424" cy="175" r="1.35" fill="none" stroke="#c4123c" stroke-width="1.0"/>
<circle cx="422.5" cy="178" r="1.35" fill="none" stroke="#c4123c" stroke-width="1.0"/>
<circle cx="427" cy="176.5" r="1.35" fill="none" stroke="#55287a" stroke-width="1.0"/>
<circle cx="427.5" cy="179" r="1.35" fill="none" stroke="#55287a" stroke-width="1.0"/>
<circle cx="430" cy="176" r="1.35" fill="none" stroke="#55287a" stroke-width="1.0"/>
<circle cx="431" cy="178" r="1.35" fill="none" stroke="#55287a" stroke-width="1.0"/>
<circle cx="435" cy="176" r="1.35" fill="none" stroke="#7a9a3a" stroke-width="1.0"/>
<circle cx="437.5" cy="177" r="1.35" fill="none" stroke="#3f9150" stroke-width="1.0"/>
<circle cx="442" cy="176.5" r="1.35" fill="none" stroke="#c4123c" stroke-width="1.0"/>
<circle cx="431.5" cy="182" r="1.35" fill="none" stroke="#3f9150" stroke-width="1.0"/>
<circle cx="439" cy="180.5" r="1.35" fill="none" stroke="#2a4f78" stroke-width="1.0"/>
<circle cx="440" cy="182.5" r="1.35" fill="none" stroke="#3a3a9a" stroke-width="1.0"/>
<circle cx="438" cy="183" r="1.35" fill="none" stroke="#2a4f78" stroke-width="1.0"/>
<circle cx="449.5" cy="181" r="1.35" fill="none" stroke="#e6943a" stroke-width="1.0"/>
<circle cx="451" cy="183" r="1.35" fill="none" stroke="#e6943a" stroke-width="1.0"/>
<circle cx="450" cy="184" r="1.35" fill="none" stroke="#c07040" stroke-width="1.0"/>
<circle cx="456" cy="177" r="1.35" fill="none" stroke="#8a3a8a" stroke-width="1.0"/>
<circle cx="455" cy="179" r="1.35" fill="none" stroke="#a04060" stroke-width="1.0"/>
<circle cx="452" cy="185" r="1.35" fill="none" stroke="#5a3a3a" stroke-width="1.0"/>
<circle cx="462.8" cy="188.5" r="1.35" fill="none" stroke="#3f75a8" stroke-width="1.0"/>
<circle cx="470" cy="183" r="1.35" fill="none" stroke="#d6d6d6" stroke-width="1.0"/>
<circle cx="444.5" cy="191" r="1.35" fill="none" stroke="#55287a" stroke-width="1.0"/>
<circle cx="465.8" cy="203.9" r="1.35" fill="none" stroke="#55287a" stroke-width="1.0"/>
<circle cx="477.7" cy="215.8" r="1.35" fill="none" stroke="#d6d6d6" stroke-width="1.0"/>
<circle cx="431.3" cy="212.2" r="1.35" fill="none" stroke="#3f75a8" stroke-width="1.0"/>
<path d="M400.25,240.75 L401.75,237.75 L403.25,240.75 Z" fill="none" stroke="#222" stroke-width="0.6"/>
<path d="M408.00,240.75 L409.50,237.75 L411.00,240.75 Z" fill="none" stroke="#222" stroke-width="0.6"/>
<path d="M434.90,240.75 L436.40,237.75 L437.90,240.75 Z" fill="none" stroke="#222" stroke-width="0.6"/>
<path d="M450.50,240.75 L452.00,237.75 L453.50,240.75 Z" fill="none" stroke="#222" stroke-width="0.6"/>
<path d="M452.90,240.75 L454.40,237.75 L455.90,240.75 Z" fill="none" stroke="#222" stroke-width="0.6"/>
<path d="M455.30,240.75 L456.80,237.75 L458.30,240.75 Z" fill="none" stroke="#222" stroke-width="0.6"/>
<path d="M457.70,240.75 L459.20,237.75 L460.70,240.75 Z" fill="none" stroke="#222" stroke-width="0.6"/>
<path d="M460.10,240.75 L461.60,237.75 L463.10,240.75 Z" fill="none" stroke="#222" stroke-width="0.6"/>
<path d="M468.50,240.75 L470.00,237.75 L471.50,240.75 Z" fill="none" stroke="#222" stroke-width="0.6"/>
<path d="M470.90,240.75 L472.40,237.75 L473.90,240.75 Z" fill="none" stroke="#222" stroke-width="0.6"/>
<path d="M473.30,240.75 L474.80,237.75 L476.30,240.75 Z" fill="none" stroke="#222" stroke-width="0.6"/>
<path d="M475.70,240.75 L477.20,237.75 L478.70,240.75 Z" fill="none" stroke="#222" stroke-width="0.6"/>
<path d="M478.10,240.75 L479.60,237.75 L481.10,240.75 Z" fill="none" stroke="#222" stroke-width="0.6"/>
<path d="M480.50,240.75 L482.00,237.75 L483.50,240.75 Z" fill="none" stroke="#222" stroke-width="0.6"/>
<path d="M482.90,240.75 L484.40,237.75 L485.90,240.75 Z" fill="none" stroke="#222" stroke-width="0.6"/>
<path d="M488.50,240.75 L490.00,237.75 L491.50,240.75 Z" fill="none" stroke="#222" stroke-width="0.6"/>
<path d="M491.50,240.75 L493.00,237.75 L494.50,240.75 Z" fill="none" stroke="#222" stroke-width="0.6"/>
<path d="M494.00,240.75 L495.50,237.75 L497.00,240.75 Z" fill="none" stroke="#222" stroke-width="0.6"/>
<path d="M497.50,240.75 L499.00,237.75 L500.50,240.75 Z" fill="none" stroke="#222" stroke-width="0.6"/>
<path d="M500.50,240.75 L502.00,237.75 L503.50,240.75 Z" fill="none" stroke="#222" stroke-width="0.6"/>
<path d="M503.00,240.75 L504.50,237.75 L506.00,240.75 Z" fill="none" stroke="#222" stroke-width="0.6"/>
</svg>
<div id="bd"></div>
</div>
</body></html>
